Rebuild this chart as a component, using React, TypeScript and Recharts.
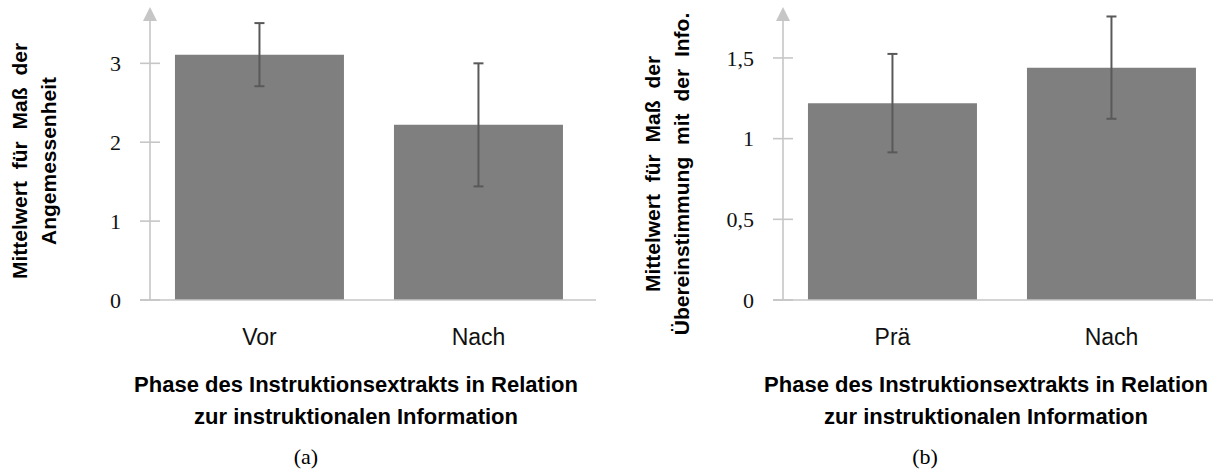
import { BarChart, Bar, XAxis, YAxis, ErrorBar } from 'recharts';

// (a) Angemessenheit
const phasesA = ['Vor', 'Nach'];
const meansA = [3.11, 2.22];
const errorsA = [0.4, 0.78];
const ticksA = [0, 1, 2, 3];
const yTitleA = ['Mittelwert für Maß der', 'Angemessenheit'];

// (b) Übereinstimmung
const phasesB = ['Prä', 'Nach'];
const meansB = [1.22, 1.44];
const errorsB = [0.305, 0.317];
const ticksB = [0, 0.5, 1, 1.5];
const yTitleB = ['Mittelwert für Maß der', 'Übereinstimmung mit der Info.'];

const xTitle = ['Phase des Instruktionsextrakts in Relation', 'zur instruktionalen Information'];

const AXIS = '#c6c6c6';
const BAR = '#7f7f7f';
const ERR = '#595959';
const SANS = '"Liberation Sans", Arial, sans-serif';
const SERIF = '"Liberation Serif", "Times New Roman", serif';

const YTick = ({ x, y, payload }: any) => (
  <g>
    <line x1={x + 19} x2={x + 39} y1={y} y2={y} stroke={AXIS} strokeWidth={1.6} />
    <text x={x} y={y} dy="0.35em" textAnchor="end" fontFamily={SERIF} fontSize={22} fill="#111">
      {String(payload.value).replace('.', ',')}
    </text>
  </g>
);

const yLabel = (lines: string[], mid: number) => (props: any) => {
  const { x, y, width } = props.viewBox;
  const ax = x + width;
  return (
    <g>
      <polygon points={`${ax - 7},${y + 5} ${ax + 7},${y + 5} ${ax},${y - 9}`} fill={AXIS} />
      {lines.map((line, i) => {
        const bx = ax - 123 + i * 29;
        return (
          <text
            key={i}
            x={bx}
            y={mid}
            transform={`rotate(-90 ${bx} ${mid})`}
            textAnchor="middle"
            fontFamily={SANS}
            fontWeight="bold"
            fontSize={21}
            wordSpacing={6}
            fill="#000"
          >
            {line}
          </text>
        );
      })}
    </g>
  );
};

const xLabel = (titleShift: number, caption: string, captionShift: number) => (props: any) => {
  const { x, y, width } = props.viewBox;
  const mid = x + width / 2;
  return (
    <g>
      <line x1={x - 10} x2={x + width + 8} y1={y} y2={y} stroke={AXIS} strokeWidth={1.6} />
      {xTitle.map((line, i) => (
        <text
          key={i}
          x={mid + titleShift}
          y={y + 92 + i * 32}
          textAnchor="middle"
          fontFamily={SANS}
          fontWeight="bold"
          fontSize={22}
          fill="#000"
        >
          {line}
        </text>
      ))}
      <text x={mid + captionShift} y={y + 164} textAnchor="middle" fontFamily={SERIF} fontSize={22} fill="#000">
        {caption}
      </text>
    </g>
  );
};

function Panel(p: any) {
  const data = p.phases.map((phase: string, i: number) => ({ phase, mean: p.means[i], err: p.errors[i] }));
  return (
    <div style={{ position: 'absolute', left: p.left, top: 0 }}>
      <BarChart
        width={p.width}
        height={474}
        data={data}
        margin={{ top: 16, right: p.right, left: 0, bottom: 134 }}
        barCategoryGap="11.4%"
      >
        <XAxis
          dataKey="phase"
          height={40}
          axisLine={false}
          tickLine={false}
          tickSize={0}
          tickMargin={29}
          tick={{ fill: '#111', fontSize: 23, fontFamily: SANS }}
          label={xLabel(p.titleShift, p.caption, p.captionShift)}
        />
        <YAxis
          type="number"
          domain={[0, p.yMax]}
          ticks={p.ticks}
          width={p.axisWidth}
          axisLine={{ stroke: AXIS, strokeWidth: 1.6 }}
          tickLine={false}
          tickSize={0}
          tickMargin={29}
          tick={<YTick />}
          label={yLabel(p.yTitle, p.yTitleMid)}
        />
        <Bar dataKey="mean" fill={BAR} isAnimationActive={false}>
          <ErrorBar dataKey="err" width={5} stroke={ERR} strokeWidth={2} />
        </Bar>
      </BarChart>
    </div>
  );
}

export default function App() {
  return (
    <div
      style={{
        position: 'absolute',
        left: 0,
        top: 0,
        width: 1213,
        height: 474,
        overflow: 'hidden',
        background: '#fff',
      }}
    >
      <Panel
        left={0}
        width={600}
        right={12}
        axisWidth={150}
        phases={phasesA}
        means={meansA}
        errors={errorsA}
        ticks={ticksA}
        yMax={3.6}
        yTitle={yTitleA}
        yTitleMid={161}
        titleShift={-13}
        caption="(a)"
        captionShift={-63}
      />
      <Panel
        left={600}
        width={621}
        right={0}
        axisWidth={183}
        phases={phasesB}
        means={meansB}
        errors={errorsB}
        ticks={ticksB}
        yMax={1.76}
        yTitle={yTitleB}
        yTitleMid={174}
        titleShift={-16}
        caption="(b)"
        captionShift={-77}
      />
    </div>
  );
}
